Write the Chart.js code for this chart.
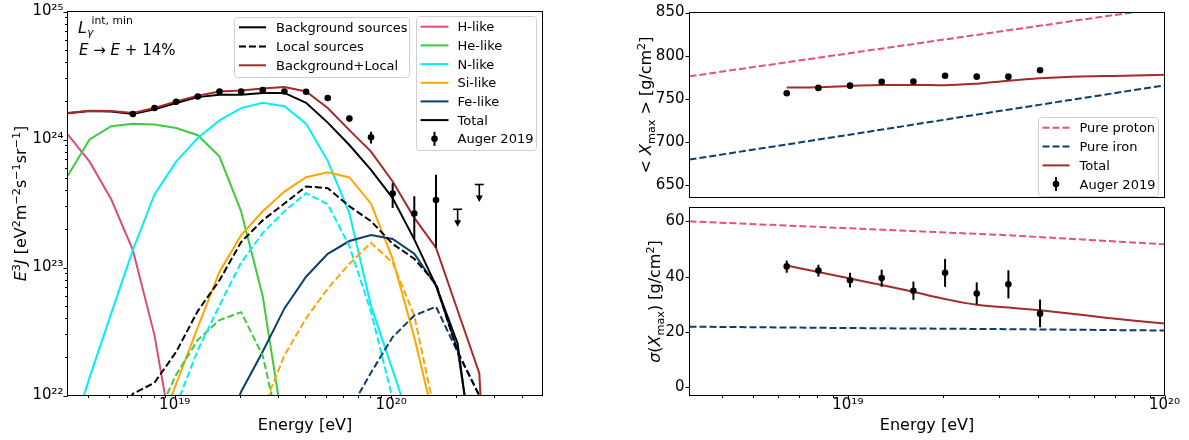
<!DOCTYPE html>
<html>
<head>
<meta charset="utf-8">
<script src="https://cdn.jsdelivr.net/npm/chart.js@4.4.1/dist/chart.umd.min.js"></script>
<style>
  html, body { margin:0; padding:0; background:#ffffff; }
  body { width:1189px; height:440px; position:relative; overflow:hidden; }
  canvas { position:absolute; }
</style>
</head>
<body>
<canvas id="spectrum" width="560" height="440" style="left:0px;top:0px;width:560px;height:440px;"></canvas>
<canvas id="xmaxMean" width="589" height="210" style="left:600px;top:0px;width:589px;height:210px;"></canvas>
<canvas id="xmaxSigma" width="589" height="245" style="left:600px;top:195px;width:589px;height:245px;"></canvas>
<script>
const N = null;
const FAMILY = '"DejaVu Sans", sans-serif';

// ---------------- Left panel: spectrum E^3 J ----------------
const energyEV = [3.214e18, 4.046e18, 5.094e18, 6.413e18, 8.073e18, 1.016e19, 1.279e19, 1.611e19, 2.028e19, 2.553e19, 3.214e19,
                  4.046e19, 5.094e19, 6.413e19, 8.073e19, 1.016e20, 1.279e20, 1.611e20, 2.028e20, 2.553e20, 3.214e20];
const hLike   = [1.09e24, 6.71e23, 3.41e23, 1.37e23, 2.95e22, 3.2e21, N, N, N, N, N, N, N, N, N, N, N, N, N, N, N];
const heLike  = [5.24e23, 1.00e24, 1.27e24, 1.33e24, 1.31e24, 1.23e24, 1.08e24, 7.35e23, 2.75e23, 5.93e22, 4.9e21, N, N, N, N, N, N, N, N, N, N];
const nLike   = [4.0e21, 1.38e22, 4.38e22, 1.37e23, 3.72e23, 6.71e23, 1.03e24, 1.41e24, 1.76e24, 1.94e24, 1.82e24, 1.33e24, 6.81e23, 2.66e23, 5.01e22, 1.58e22, 4.9e21, N, N, N, N];
const siLike  = [N, N, N, N, 4.5e21, 1.23e22, 3.41e22, 9.27e22, 1.79e23, 2.75e23, 3.92e23, 5.07e23, 5.55e23, 5.05e23, 3.15e23, 1.17e23, 2.85e22, 5.5e21, N, N, N];
const feLike  = [N, N, N, N, N, N, N, 4.0e21, 1.07e22, 2.21e22, 4.79e22, 8.47e22, 1.28e23, 1.61e23, 1.79e23, 1.67e23, 1.28e23, 7.21e22, 2.26e22, 1.8e21, N];
const heLocal = [N, N, N, N, 6.3e21, 1.45e22, 2.72e22, 3.88e22, 4.48e22, 2.04e22, 3.6e21, N, N, N, N, N, N, N, N, N, N];
const nLocal  = [N, N, N, N, N, 8.3e21, 2.26e22, 5.05e22, 1.09e23, 1.86e23, 2.75e23, 3.80e23, 3.12e23, 1.47e23, 4.5e22, 9.4e21, N, N, N, N, N];
const siLocal = [N, N, N, N, N, N, N, N, N, 7.8e21, 2.06e22, 4.01e22, 6.84e22, 1.07e23, 1.56e23, 1.09e23, 4.2e22, 6.6e21, N, N, N];
const feLocal = [N, N, N, N, N, N, N, N, N, N, N, N, N, 7.6e21, 1.51e22, 2.86e22, 4.22e22, 4.94e22, 2.19e22, 1.0e22, 1.0e19];
const localSources        = [N, N, 5.0e21, 1.03e22, 1.26e22, 2.19e22, 4.57e22, 7.94e22, 1.58e23, 2.34e23, 3.16e23, 4.30e23, 4.17e23, 3.01e23, 2.30e23, 1.53e23, 1.17e23, 7.48e22, 2.19e22, 1.0e22, 1.0e19];
const backgroundSources   = [1.603e24, 1.667e24, 1.656e24, 1.585e24, 1.722e24, 1.928e24, 2.143e24, 2.234e24, 2.239e24, 2.312e24, 2.312e24, 1.936e24, 1.355e24, 9.06e23, 5.79e23, 3.49e23, 1.66e23, 7.21e22, 2.55e22, 1.35e21, N];
const backgroundPlusLocal = [1.611e24, 1.679e24, 1.667e24, 1.611e24, 1.762e24, 1.986e24, 2.193e24, 2.371e24, 2.415e24, 2.500e24, 2.576e24, 2.371e24, 1.762e24, 1.183e24, 8.04e23, 4.70e23, 2.443e23, 1.429e23, 4.61e22, 1.493e22, 1.0e19];

const augerEnergyEV = [6.413e18, 8.073e18, 1.016e19, 1.279e19, 1.611e19, 2.028e19, 2.553e19, 3.214e19, 4.046e19, 5.094e19, 6.413e19, 8.073e19, 1.016e20, 1.279e20, 1.611e20];
const augerFlux     = [1.58e24, 1.76e24, 1.97e24, 2.17e24, 2.37e24, 2.37e24, 2.43e24, 2.37e24, 2.36e24, 2.11e24, 1.46e24, 1.04e24, 3.78e23, 2.64e23, 3.37e23];
const augerFluxLow  = [1.55e24, 1.73e24, 1.94e24, 2.13e24, 2.32e24, 2.32e24, 2.37e24, 2.30e24, 2.28e24, 2.02e24, 1.38e24, 9.3e23, 2.92e23, 1.67e23, 1.43e23];
const augerFluxHigh = [1.61e24, 1.79e24, 2.00e24, 2.21e24, 2.42e24, 2.42e24, 2.49e24, 2.44e24, 2.44e24, 2.20e24, 1.54e24, 1.15e24, 4.56e23, 3.60e23, 5.30e23];
const augerUpperLimitEnergyEV = [2.028e20, 2.553e20];
const augerUpperLimit         = [2.85e23, 4.45e23];

const spectrumXTicks  = [1e19, 1e20];
const spectrumXLabels = ['10\u00b9\u2079', '10\u00b2\u2070'];
const spectrumXMinor  = [4e18, 5e18, 6e18, 7e18, 8e18, 9e18, 2e19, 3e19, 4e19, 5e19, 6e19, 7e19, 8e19, 9e19, 2e20, 3e20, 4e20];
const spectrumYTicks  = [1e22, 1e23, 1e24, 1e25];
const spectrumYLabels = ['10\u00b2\u00b2', '10\u00b2\u00b3', '10\u00b2\u2074', '10\u00b2\u2075'];
const spectrumYMinor  = [2e22, 3e22, 4e22, 5e22, 6e22, 7e22, 8e22, 9e22, 2e23, 3e23, 4e23, 5e23, 6e23, 7e23, 8e23, 9e23,
                         2e24, 3e24, 4e24, 5e24, 6e24, 7e24, 8e24, 9e24];

const sourceLegendLabels  = ['Background sources', 'Local sources', 'Background+Local'];
const elementLegendLabels = ['H-like', 'He-like', 'N-like', 'Si-like', 'Fe-like', 'Total', 'Auger 2019'];

// ---------------- Right panels: Xmax moments ----------------
const xmaxEnergyEV   = [6.413e18, 8.073e18, 1.016e19, 1.279e19, 1.611e19, 2.028e19, 2.553e19, 3.214e19, 4.046e19];
const xmaxMean       = [756.3, 762.6, 765.2, 769.7, 770.0, 776.7, 775.6, 775.6, 783.1];
const xmaxMeanErr    = [1.5, 1.5, 1.6, 1.7, 1.8, 2.0, 2.3, 2.6, 3.0];
const xmaxSigma      = [43.7, 42.2, 38.7, 39.5, 34.9, 41.4, 33.9, 37.2, 26.6];
const xmaxSigmaLow   = [41.4, 40.0, 36.1, 36.3, 31.6, 36.3, 30.0, 32.1, 21.7];
const xmaxSigmaHigh  = [45.8, 44.3, 41.4, 42.5, 38.2, 46.4, 37.9, 42.3, 31.7];

const modelEnergyEV  = [6.413e18, 8.073e18, 1.016e19, 1.279e19, 1.611e19, 2.028e19, 2.553e19, 3.214e19, 4.046e19, 5.094e19, 6.413e19, 8.073e19, 1.016e20];
const totalXmaxMean  = [763.0, 763.4, 764.8, 766.0, 766.0, 765.6, 767.5, 771.0, 773.8, 775.6, 776.3, 777.0, 778.0];
const totalXmaxSigma = [44.0, 41.7, 39.3, 37.0, 34.5, 31.9, 29.8, 28.8, 27.8, 26.6, 25.2, 24.0, 23.0];

const pureEnergyEV   = [3.162e18, 1e19, 3.162e19, 1e20];
const protonXmaxMean = [776.0, 802.5, 829.0, 855.5];
const ironXmaxMean   = [679.5, 708.0, 737.0, 765.5];
const protonXmaxSigma= [60.0, 57.5, 55.0, 51.7];
const ironXmaxSigma  = [21.9, 21.4, 21.0, 20.5];

const xmaxXTicks   = [1e19, 1e20];
const xmaxXLabels  = ['10\u00b9\u2079', '10\u00b2\u2070'];
const xmaxXMinor   = [4e18, 5e18, 6e18, 7e18, 8e18, 9e18, 2e19, 3e19, 4e19, 5e19, 6e19, 7e19, 8e19, 9e19];
const meanYTicks   = [650, 700, 750, 800, 850];
const meanYLabels  = ['650', '700', '750', '800', '850'];
const sigmaYTicks  = [0, 20, 40, 60];
const sigmaYLabels = ['0', '20', '40', '60'];
const xmaxLegendLabels = ['Pure proton', 'Pure iron', 'Total', 'Auger 2019'];

// ---------------- styles ----------------
const COL = { h:'#de4a7f', he:'#3ccc3c', n:'#00f0f5', si:'#ffa500', fe:'#0d3d6e', brown:'#a52a2a', black:'#000000', proton:'#e4508a', iron:'#0d3d6e' };
const DASH = [7, 3];

function pairs(xs, ys) { const out = []; for (let i = 0; i < xs.length; i++) if (ys[i] != null) out.push({ x: xs[i], y: ys[i] }); return out; }
function lineDs(label, xs, ys, color, dashed, smooth) {
  return { label, data: pairs(xs, ys), borderColor: color, backgroundColor: color, borderWidth: 2,
           borderDash: dashed ? DASH : [], pointRadius: 0, pointHoverRadius: 0, fill: false, tension: 0,
           cubicInterpolationMode: smooth ? 'monotone' : 'default', borderCapStyle: 'butt' };
}
function pointDs(label, xs, ys) {
  return { label, data: pairs(xs, ys), showLine: false, pointRadius: 3.3, pointHoverRadius: 3.3,
           pointBackgroundColor: '#000', pointBorderColor: '#000', pointBorderWidth: 0, borderColor: '#000', backgroundColor: '#000' };
}
function font(size, italic) { return (italic ? 'italic ' : '') + size + 'px ' + FAMILY; }
// draw a run of text pieces: {t, s(size), it(italic), dy}
function runsWidth(ctx, runs) { let w = 0; for (const r of runs) { ctx.font = font(r.s, r.it); w += ctx.measureText(r.t).width; } return w; }
function drawRuns(ctx, runs, x, y, center) {
  let cx = center ? x - runsWidth(ctx, runs) / 2 : x;
  ctx.textBaseline = 'alphabetic'; ctx.textAlign = 'left'; ctx.fillStyle = '#000';
  for (const r of runs) { ctx.font = font(r.s, r.it); ctx.fillText(r.t, cx, y + (r.dy || 0)); cx += ctx.measureText(r.t).width; }
}
function drawRunsRotated(ctx, runs, x, y) {
  ctx.save(); ctx.translate(x, y); ctx.rotate(-Math.PI / 2); drawRuns(ctx, runs, 0, 0, true); ctx.restore();
}
function seg(ctx, x1, y1, x2, y2) { ctx.beginPath(); ctx.moveTo(x1, y1); ctx.lineTo(x2, y2); ctx.stroke(); }
function roundRect(ctx, x, y, w, h, r) {
  ctx.beginPath(); ctx.moveTo(x + r, y); ctx.lineTo(x + w - r, y); ctx.quadraticCurveTo(x + w, y, x + w, y + r);
  ctx.lineTo(x + w, y + h - r); ctx.quadraticCurveTo(x + w, y + h, x + w - r, y + h); ctx.lineTo(x + r, y + h);
  ctx.quadraticCurveTo(x, y + h, x, y + h - r); ctx.lineTo(x, y + r); ctx.quadraticCurveTo(x, y, x + r, y); ctx.closePath();
}
// legend: box in canvas coords, rows with {label, kind, color, dash, y}
function drawLegend(ctx, box, rows, x1, x2, tx) {
  ctx.save();
  roundRect(ctx, box.x, box.y, box.w, box.h, 3);
  ctx.fillStyle = 'rgba(255,255,255,0.8)'; ctx.fill();
  ctx.strokeStyle = '#d0d0d0'; ctx.lineWidth = 1; ctx.stroke();
  for (const r of rows) {
    if (r.kind === 'line') {
      ctx.strokeStyle = r.color; ctx.lineWidth = 2; ctx.setLineDash(r.dash ? DASH : []);
      seg(ctx, x1, r.y, x2, r.y); ctx.setLineDash([]);
    } else {
      const mx = (x1 + x2) / 2;
      ctx.strokeStyle = '#000'; ctx.lineWidth = 2; seg(ctx, mx, r.y - 7, mx, r.y + 7);
      ctx.fillStyle = '#000'; ctx.beginPath(); ctx.arc(mx, r.y, 3.3, 0, Math.PI * 2); ctx.fill();
    }
    ctx.fillStyle = '#000'; ctx.font = font(13, false); ctx.textBaseline = 'alphabetic'; ctx.textAlign = 'left';
    ctx.fillText(r.label, tx, r.y + 4.6);
  }
  ctx.restore();
}
function frameAndTicks(chart, xMajor, xMinor, yMajor, yMinor) {
  const { ctx, chartArea: a } = chart; const xs = chart.scales.x, ys = chart.scales.y;
  ctx.save(); ctx.strokeStyle = '#000'; ctx.lineWidth = 1; ctx.setLineDash([]);
  if (xMajor) xMajor.forEach(v => { const x = Math.round(xs.getPixelForValue(v)) + 0.5; seg(ctx, x, a.bottom, x, a.bottom + 4); });
  if (xMinor) xMinor.forEach(v => { const x = Math.round(xs.getPixelForValue(v)) + 0.5; seg(ctx, x, a.bottom, x, a.bottom + 2.5); });
  if (yMajor) yMajor.forEach(v => { const y = Math.round(ys.getPixelForValue(v)) + 0.5; seg(ctx, a.left - 4, y, a.left, y); });
  if (yMinor) yMinor.forEach(v => { const y = Math.round(ys.getPixelForValue(v)) + 0.5; seg(ctx, a.left - 2.5, y, a.left, y); });
  ctx.strokeRect(a.left, a.top, a.right - a.left, a.bottom - a.top);
  ctx.restore();
}
function errorBars(chart, xs_, lows, highs, width) {
  const { ctx } = chart; const xs = chart.scales.x, ys = chart.scales.y;
  ctx.save(); ctx.strokeStyle = '#000'; ctx.lineWidth = width; ctx.setLineDash([]);
  for (let i = 0; i < xs_.length; i++) {
    const x = xs.getPixelForValue(xs_[i]);
    seg(ctx, x, ys.getPixelForValue(lows[i]), x, ys.getPixelForValue(highs[i]));
  }
  ctx.restore();
}
function upperLimits(chart, xs_, vals) {
  const { ctx } = chart; const xs = chart.scales.x, ys = chart.scales.y;
  ctx.save(); ctx.strokeStyle = '#000'; ctx.fillStyle = '#000'; ctx.lineWidth = 1.6;
  for (let i = 0; i < xs_.length; i++) {
    const x = xs.getPixelForValue(xs_[i]); const y = ys.getPixelForValue(vals[i]);
    seg(ctx, x - 4.5, y, x + 4.5, y); seg(ctx, x, y, x, y + 12);
    ctx.beginPath(); ctx.moveTo(x - 3.5, y + 11); ctx.lineTo(x + 3.5, y + 11); ctx.lineTo(x, y + 17.5); ctx.closePath(); ctx.fill();
  }
  ctx.restore();
}
function logAxisX(min, max, majors, labels, fitH, show) {
  return { type: 'logarithmic', min, max, display: show,
    grid: { display: false, drawTicks: false }, border: { display: false },
    ticks: { color: '#000', font: { family: FAMILY, size: 15, lineHeight: 1 }, padding: 2, maxRotation: 0, minRotation: 0, autoSkip: false,
             callback: (v, i) => labels[i] },
    afterBuildTicks: s => { s.ticks = majors.map(v => ({ value: v })); },
    afterFit: s => { s.height = fitH; } };
}
function yAxis(type, min, max, majors, labels, fitW, pad) {
  return { type, min, max,
    grid: { display: false, drawTicks: false }, border: { display: false },
    ticks: { color: '#000', font: { family: FAMILY, size: 15, lineHeight: 1 }, padding: pad, autoSkip: false,
             callback: (v, i) => labels[i] },
    afterBuildTicks: s => { s.ticks = majors.map(v => ({ value: v })); },
    afterFit: s => { s.width = fitW; } };
}
const baseOpts = { responsive: false, animation: false, events: [],
  plugins: { legend: { display: false }, tooltip: { enabled: false } } };

// ---------------- Chart 1 ----------------
new Chart(document.getElementById('spectrum'), {
  type: 'line',
  data: { datasets: [
    pointDs(elementLegendLabels[6], augerEnergyEV, augerFlux),
    lineDs(sourceLegendLabels[2], energyEV, backgroundPlusLocal, COL.brown, false),
    lineDs(sourceLegendLabels[0], energyEV, backgroundSources, COL.black, false),
    lineDs(sourceLegendLabels[1], energyEV, localSources, COL.black, true),
    lineDs('Fe-like (local)', energyEV, feLocal, COL.fe, true),
    lineDs('Si-like (local)', energyEV, siLocal, COL.si, true),
    lineDs('N-like (local)', energyEV, nLocal, COL.n, true),
    lineDs('He-like (local)', energyEV, heLocal, COL.he, true),
    lineDs(elementLegendLabels[4], energyEV, feLike, COL.fe, false),
    lineDs(elementLegendLabels[3], energyEV, siLike, COL.si, false),
    lineDs(elementLegendLabels[2], energyEV, nLike, COL.n, false),
    lineDs(elementLegendLabels[1], energyEV, heLike, COL.he, false),
    lineDs(elementLegendLabels[0], energyEV, hLike, COL.h, false)
  ] },
  options: Object.assign({}, baseOpts, {
    layout: { padding: { left: 0, top: 8.5, right: 17.5, bottom: 0 } },
    scales: {
      x: logAxisX(3.2e18, 5.0e20, spectrumXTicks, spectrumXLabels, 44.5, true),
      y: yAxis('logarithmic', 1e22, 1e25, spectrumYTicks, spectrumYLabels, 67.5, 4)
    }
  }),
  plugins: [{
    id: 'spectrumDecor',
    afterDatasetsDraw(chart) {
      errorBars(chart, augerEnergyEV, augerFluxLow, augerFluxHigh, 2);
      upperLimits(chart, augerUpperLimitEnergyEV, augerUpperLimit);
    },
    afterDraw(chart) {
      const ctx = chart.ctx; const a = chart.chartArea;
      frameAndTicks(chart, spectrumXTicks, spectrumXMinor, spectrumYTicks, spectrumYMinor);
      // annotation
      drawRuns(ctx, [{ t: 'L', s: 16, it: true }], 78, 33.3);
      drawRuns(ctx, [{ t: 'int, min', s: 10.8 }], 91.5, 24.2);
      drawRuns(ctx, [{ t: '\u03b3', s: 10.8, it: true }], 87, 35.8);
      drawRuns(ctx, [{ t: 'E', s: 15, it: true }, { t: ' \u2192 ', s: 15 }, { t: 'E', s: 15, it: true }, { t: ' + 14%', s: 15 }], 79, 55);
      // legends
      drawLegend(ctx, { x: 234.5, y: 17.5, w: 175, h: 60 }, [
        { label: sourceLegendLabels[0], kind: 'line', color: COL.black, y: 27.3 },
        { label: sourceLegendLabels[1], kind: 'line', color: COL.black, dash: true, y: 46.5 },
        { label: sourceLegendLabels[2], kind: 'line', color: COL.brown, y: 65.3 }
      ], 239, 266, 276);
      drawLegend(ctx, { x: 416.5, y: 16.5, w: 120, h: 134 }, [
        { label: elementLegendLabels[0], kind: 'line', color: COL.h, y: 26.7 },
        { label: elementLegendLabels[1], kind: 'line', color: COL.he, y: 45.4 },
        { label: elementLegendLabels[2], kind: 'line', color: COL.n, y: 64.1 },
        { label: elementLegendLabels[3], kind: 'line', color: COL.si, y: 82.8 },
        { label: elementLegendLabels[4], kind: 'line', color: COL.fe, y: 101.4 },
        { label: elementLegendLabels[5], kind: 'line', color: COL.black, y: 120.1 },
        { label: elementLegendLabels[6], kind: 'point', y: 138.8 }
      ], 420.5, 448.5, 457.5);
      // axis titles
      drawRuns(ctx, [{ t: 'Energy [eV]', s: 16 }], (a.left + a.right) / 2, 430, true);
      drawRunsRotated(ctx, [
        { t: 'E', s: 16, it: true }, { t: '3', s: 11.2, dy: -6.5 }, { t: 'J', s: 16, it: true }, { t: ' [eV', s: 16 },
        { t: '2', s: 11.2, dy: -6.5 }, { t: 'm', s: 16 }, { t: '\u22122', s: 11.2, dy: -6.5 }, { t: 's', s: 16 },
        { t: '\u22121', s: 11.2, dy: -6.5 }, { t: 'sr', s: 16 }, { t: '\u22121', s: 11.2, dy: -6.5 }, { t: ']', s: 16 }
      ], 26, (a.top + a.bottom) / 2);
    }
  }]
});

// ---------------- Chart 2: <Xmax> ----------------
new Chart(document.getElementById('xmaxMean'), {
  type: 'line',
  data: { datasets: [
    pointDs(xmaxLegendLabels[3], xmaxEnergyEV, xmaxMean),
    lineDs(xmaxLegendLabels[2], modelEnergyEV, totalXmaxMean, COL.brown, false, true),
    lineDs(xmaxLegendLabels[1], pureEnergyEV, ironXmaxMean, COL.iron, true),
    lineDs(xmaxLegendLabels[0], pureEnergyEV, protonXmaxMean, COL.proton, true)
  ] },
  options: Object.assign({}, baseOpts, {
    layout: { padding: { left: 0, top: 9.5, right: 24.5, bottom: 7.5 } },
    scales: {
      x: logAxisX(3.1623e18, 1e20, xmaxXTicks, xmaxXLabels, 0, false),
      y: yAxis('linear', 635.5, 850, meanYTicks, meanYLabels, 89.5, 5)
    }
  }),
  plugins: [{
    id: 'meanDecor',
    afterDatasetsDraw(chart) {
      errorBars(chart, xmaxEnergyEV, xmaxMean.map((v, i) => v - xmaxMeanErr[i]), xmaxMean.map((v, i) => v + xmaxMeanErr[i]), 2);
    },
    afterDraw(chart) {
      const ctx = chart.ctx; const a = chart.chartArea;
      frameAndTicks(chart, null, null, meanYTicks, null);
      drawLegend(ctx, { x: 438.5, y: 117.5, w: 120, h: 79 }, [
        { label: xmaxLegendLabels[0], kind: 'line', color: COL.proton, dash: true, y: 127.8 },
        { label: xmaxLegendLabels[1], kind: 'line', color: COL.iron, dash: true, y: 146.6 },
        { label: xmaxLegendLabels[2], kind: 'line', color: COL.brown, y: 165.4 },
        { label: xmaxLegendLabels[3], kind: 'point', y: 184.1 }
      ], 442.5, 469.5, 479.5);
      drawRunsRotated(ctx, [
        { t: '< ', s: 16 }, { t: 'X', s: 16, it: true }, { t: 'max', s: 11.2, dy: 3.5 }, { t: ' > [g/cm', s: 16 },
        { t: '2', s: 11.2, dy: -6.5 }, { t: ']', s: 16 }
      ], 51, (a.top + a.bottom) / 2);
    }
  }]
});

// ---------------- Chart 3: sigma(Xmax) ----------------
new Chart(document.getElementById('xmaxSigma'), {
  type: 'line',
  data: { datasets: [
    pointDs(xmaxLegendLabels[3], xmaxEnergyEV, xmaxSigma),
    lineDs(xmaxLegendLabels[2], modelEnergyEV, totalXmaxSigma, COL.brown, false, true),
    lineDs(xmaxLegendLabels[1], pureEnergyEV, ironXmaxSigma, COL.iron, true),
    lineDs(xmaxLegendLabels[0], pureEnergyEV, protonXmaxSigma, COL.proton, true)
  ] },
  options: Object.assign({}, baseOpts, {
    layout: { padding: { left: 0, top: 7.5, right: 24.5, bottom: 0 } },
    scales: {
      x: logAxisX(3.1623e18, 1e20, xmaxXTicks, xmaxXLabels, 44.5, true),
      y: yAxis('linear', -3, 65, sigmaYTicks, sigmaYLabels, 89.5, 5)
    }
  }),
  plugins: [{
    id: 'sigmaDecor',
    afterDatasetsDraw(chart) {
      errorBars(chart, xmaxEnergyEV, xmaxSigmaLow, xmaxSigmaHigh, 2);
    },
    afterDraw(chart) {
      const ctx = chart.ctx; const a = chart.chartArea;
      frameAndTicks(chart, xmaxXTicks, xmaxXMinor, sigmaYTicks, null);
      drawRuns(ctx, [{ t: 'Energy [eV]', s: 16 }], (a.left + a.right) / 2, 430 - 195, true);
      drawRunsRotated(ctx, [
        { t: '\u03c3', s: 16, it: true }, { t: '(', s: 16 }, { t: 'X', s: 16, it: true }, { t: 'max', s: 11.2, dy: 3.5 },
        { t: ') [g/cm', s: 16 }, { t: '2', s: 11.2, dy: -6.5 }, { t: ']', s: 16 }
      ], 60, (a.top + a.bottom) / 2);
    }
  }]
});
</script>
</body>
</html>
